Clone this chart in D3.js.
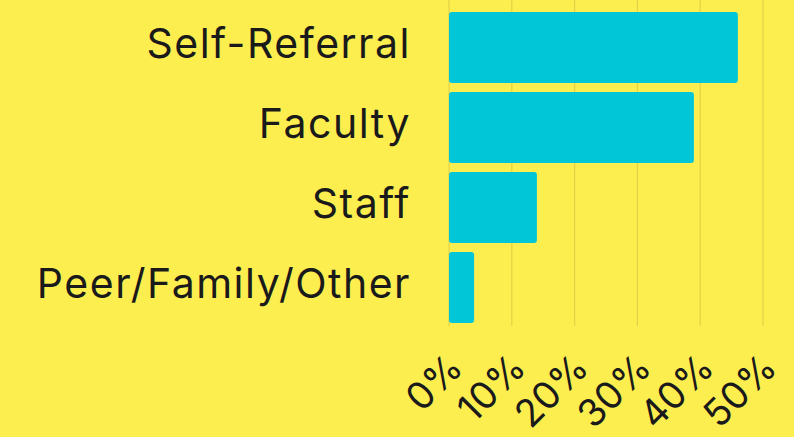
<!DOCTYPE html>
<html>
<head>
<meta charset="utf-8">
<script src="https://cdn.jsdelivr.net/npm/d3@7"></script>
<style>
  html, body { margin: 0; padding: 0; background: #fdee50; }
  svg { display: block; }
  text { font-family: Inter, "Noto Sans", sans-serif; fill: #1a1a1a; }
</style>
</head>
<body>
<script>
const categories = ["Self-Referral", "Faculty", "Staff", "Peer/Family/Other"];
const values = [46, 39, 14, 4];
const tickValues = [0, 10, 20, 30, 40, 50];
const tickLabels = ["0%", "10%", "20%", "30%", "40%", "50%"];

const W = 794, H = 437;
const svg = d3.select("body").append("svg").attr("width", W).attr("height", H);
svg.append("rect").attr("width", W).attr("height", H).attr("fill", "#fdee50");

const x = d3.scaleLinear().domain([0, 50]).range([449, 763]);
const y = d3.scaleBand().domain(categories).range([7.5, 327.5])
  .paddingInner(0.1125).paddingOuter(0.05625);

// gridlines
svg.append("g").selectAll("line").data(tickValues).join("line")
  .attr("x1", d => x(d)).attr("x2", d => x(d))
  .attr("y1", 0).attr("y2", 326)
  .attr("stroke", "#e2d247").attr("stroke-width", 1.2);

// bars
svg.append("g").selectAll("rect").data(values).join("rect")
  .attr("x", x(0))
  .attr("y", (d, i) => y(categories[i]))
  .attr("width", d => x(d) - x(0))
  .attr("height", y.bandwidth())
  .attr("rx", 3).attr("ry", 3)
  .attr("fill", "#00c6d8");

// category labels
svg.append("g").selectAll("text").data(categories).join("text")
  .attr("x", 411)
  .attr("y", d => y(d) + y.bandwidth() / 2 + 10)
  .attr("text-anchor", "end")
  .attr("font-size", 41)
  .attr("letter-spacing", 1.5)
  .text(d => d);

// tick labels
svg.append("g").selectAll("text").data(tickValues).join("text")
  .attr("transform", d => `translate(${x(d) + 16},${370}) rotate(-45)`)
  .attr("text-anchor", "end")
  .attr("font-size", 38)
  .text((d, i) => tickLabels[i]);
</script>
</body>
</html>
